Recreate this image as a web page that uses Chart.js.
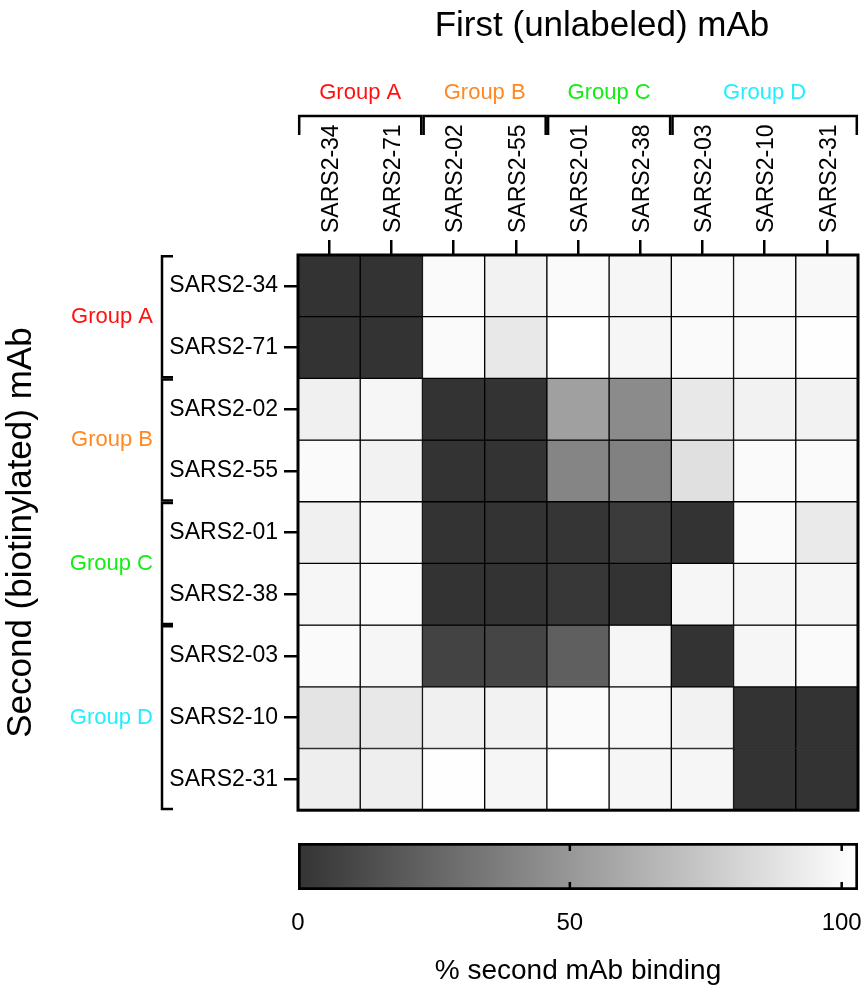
<!DOCTYPE html>
<html>
<head>
<meta charset="utf-8">
<title>mAb competition heatmap</title>
<script src="https://cdn.jsdelivr.net/npm/chart.js@4.4.1/dist/chart.umd.min.js"></script>
<style>
  html, body { margin: 0; padding: 0; background: #fff; }
  #main { position: relative; width: 867px; height: 830px; }
  #bar { position: relative; width: 867px; height: 158px; }
</style>
</head>
<body>
<div id="main"><canvas id="heatmap"></canvas></div>
<div id="bar"><canvas id="colorbar"></canvas></div>
<script>
// columns = first (unlabeled) mAb, rows = second (biotinylated) mAb
const firstMabs = ["SARS2-34", "SARS2-71", "SARS2-02", "SARS2-55", "SARS2-01", "SARS2-38", "SARS2-03", "SARS2-10", "SARS2-31"];
const secondMabs = ["SARS2-34", "SARS2-71", "SARS2-02", "SARS2-55", "SARS2-01", "SARS2-38", "SARS2-03", "SARS2-10", "SARS2-31"];
const groupNames = ["Group A", "Group B", "Group C", "Group D"];
const groupColors = ["#ff1111", "#ff8822", "#11ee11", "#22eeff"];
const groupSizes = [2, 2, 2, 3];

// % second mAb binding, one row per second mAb
const row34 = [0, 0, 100, 96, 100, 98, 100, 100, 99];
const row71 = [0, 0, 100, 91, 103, 98, 100, 100, 102];
const row02 = [95, 98, 0, 0, 55, 44, 91, 96, 96];
const row55 = [100, 96, 0, 0, 41, 39, 87, 100, 100];
const row01 = [95, 99, 0, 0, 1, 4, 0, 100, 92];
const row38 = [98, 100, 0, 0, 2, 0, 98, 98, 98];
const row03 = [100, 98, 8, 9, 22, 98, 0, 98, 100];
const row10 = [89, 91, 95, 96, 100, 99, 96, 0, 0];
const row31 = [94, 94, 102, 98, 103, 98, 98, 0, 0];
const binding = [row34, row71, row02, row55, row01, row38, row03, row10, row31];

const scaleTicks = [0, 50, 100];
const scaleMax = 103;

const topTitle = "First (unlabeled) mAb";
const sideTitle = "Second (biotinylated) mAb";
const barTitle = "% second mAb binding";

Chart.defaults.font.family = '"Liberation Sans", Arial, Helvetica, sans-serif';
Chart.defaults.color = "#000";

// 0 -> dark grey, 100 -> almost white
function grayFor(v) {
  const g = Math.round(Math.min(255, Math.max(51, 51 + v * 1.99)));
  return "rgb(" + g + "," + g + "," + g + ")";
}

const groupDecor = {
  id: "groupDecor",
  afterDraw(chart) {
    const { ctx, chartArea: a } = chart;
    const cw = (a.right - a.left) / firstMabs.length;
    const ch = (a.bottom - a.top) / secondMabs.length;
    ctx.save();
    ctx.strokeStyle = "#000";
    ctx.lineWidth = 3;
    ctx.strokeRect(a.left, a.top, a.right - a.left, a.bottom - a.top);

    ctx.fillStyle = "#000";
    ctx.font = '35px "Liberation Sans", Arial, sans-serif';
    ctx.textAlign = "center";
    ctx.textBaseline = "middle";
    ctx.fillText(topTitle, (a.left + a.right) / 2 + 24, 26);

    ctx.lineWidth = 2.5;
    ctx.font = '22px "Liberation Sans", Arial, sans-serif';
    let start = 0;
    groupSizes.forEach((n, g) => {
      // top bracket
      const x0 = a.left + start * cw + 1.2;
      const x1 = a.left + (start + n) * cw - 1.2;
      const by = a.top - 139;
      ctx.beginPath();
      ctx.moveTo(x0, by + 19);
      ctx.lineTo(x0, by);
      ctx.lineTo(x1, by);
      ctx.lineTo(x1, by + 19);
      ctx.stroke();
      ctx.fillStyle = groupColors[g];
      ctx.textAlign = "center";
      ctx.fillText(groupNames[g], (x0 + x1) / 2, a.top - 162);

      // left bracket
      const y0 = a.top + start * ch + 1.2;
      const y1 = a.top + (start + n) * ch - 1.2;
      const bx = a.left - 136;
      ctx.beginPath();
      ctx.moveTo(bx + 11, y0);
      ctx.lineTo(bx, y0);
      ctx.lineTo(bx, y1);
      ctx.lineTo(bx + 11, y1);
      ctx.stroke();
      ctx.textAlign = "right";
      ctx.fillText(groupNames[g], a.left - 145, (y0 + y1) / 2);
      start += n;
    });
    ctx.restore();
  }
};

new Chart(document.getElementById("heatmap"), {
  type: "bar",
  data: {
    labels: firstMabs,
    datasets: secondMabs.map((name, r) => ({
      label: name,
      data: binding[r].map(() => [r, r + 1]),
      backgroundColor: binding[r].map(grayFor),
      borderColor: "#000",
      borderWidth: 1,
      borderSkipped: false,
      barPercentage: 1,
      categoryPercentage: 1,
      grouped: false
    }))
  },
  options: {
    responsive: true,
    maintainAspectRatio: false,
    animation: false,
    layout: { padding: { top: 0, left: 0, right: 9, bottom: 15 } },
    plugins: {
      legend: { display: false },
      tooltip: {
        callbacks: {
          title: (items) => items[0].dataset.label + " (second) after " + items[0].label,
          label: (item) => binding[item.datasetIndex][item.dataIndex] + "% binding"
        }
      }
    },
    scales: {
      x: {
        type: "category",
        position: "top",
        offset: true,
        grid: { offset: false, drawOnChartArea: false, tickLength: 15, color: "#000", lineWidth: 2.5 },
        border: { display: false },
        ticks: { color: "#000", font: { size: 23 }, minRotation: 90, maxRotation: 90, padding: 7, labelOffset: 30, autoSkip: false },
        afterFit: (s) => { s.height = 255; s.paddingLeft = 0; s.paddingRight = 0; }
      },
      y: {
        type: "linear",
        reverse: true,
        min: 0,
        max: secondMabs.length,
        afterBuildTicks: (s) => { s.ticks = secondMabs.map((_, i) => ({ value: i + 0.5 })); },
        grid: { drawOnChartArea: false, tickLength: 14, color: "#000", lineWidth: 2.5 },
        border: { display: false },
        ticks: {
          color: "#000",
          font: { size: 23 },
          padding: 6,
          autoSkip: false,
          callback: (v) => secondMabs[Math.floor(v)]
        },
        title: { display: true, text: sideTitle, color: "#000", font: { size: 35 }, padding: { top: 0, bottom: 0 } },
        afterFit: (s) => { s.width = 298; }
      }
    }
  },
  plugins: [groupDecor]
});

// colour scale bar
const barMarks = {
  id: "barMarks",
  afterDatasetsDraw(chart) {
    const { ctx, chartArea: a, scales: { x } } = chart;
    ctx.save();
    ctx.strokeStyle = "#000";
    ctx.lineWidth = 2.5;
    scaleTicks.slice(1).forEach((t) => {
      const px = x.getPixelForValue(t);
      ctx.beginPath();
      ctx.moveTo(px, a.top);
      ctx.lineTo(px, a.top + 8);
      ctx.moveTo(px, a.bottom);
      ctx.lineTo(px, a.bottom - 8);
      ctx.stroke();
    });
    ctx.restore();
  }
};

new Chart(document.getElementById("colorbar"), {
  type: "bar",
  data: {
    labels: [""],
    datasets: [{
      data: [[0, scaleMax]],
      backgroundColor: (c) => {
        const chart = c.chart;
        const area = chart.chartArea;
        if (!area) return grayFor(50);
        const x = chart.scales.x;
        const x0 = x.getPixelForValue(0);
        const x1 = x.getPixelForValue(scaleMax);
        const grad = chart.ctx.createLinearGradient(x0, 0, x1, 0);
        [0, 25, 50, 75, 100, scaleMax].forEach((v) => grad.addColorStop(v / scaleMax, grayFor(v)));
        return grad;
      },
      borderColor: "#000",
      borderWidth: 3,
      borderSkipped: false,
      barPercentage: 1,
      categoryPercentage: 1
    }]
  },
  options: {
    indexAxis: "y",
    responsive: true,
    maintainAspectRatio: false,
    animation: false,
    layout: { padding: { top: 13, left: 298, right: 9, bottom: 0 } },
    plugins: { legend: { display: false }, tooltip: { enabled: false } },
    scales: {
      y: { display: false },
      x: {
        type: "linear",
        min: 0,
        max: scaleMax,
        afterBuildTicks: (s) => { s.ticks = scaleTicks.map((v) => ({ value: v })); },
        grid: { display: false },
        border: { display: false },
        ticks: { color: "#000", font: { size: 24 }, padding: 11 },
        title: { display: true, text: barTitle, color: "#000", font: { size: 28 }, padding: { top: 0, bottom: 0 } },
        afterFit: (s) => { s.height = 98; s.paddingLeft = 0; s.paddingRight = 0; }
      }
    }
  },
  plugins: [barMarks]
});
</script>
</body>
</html>
